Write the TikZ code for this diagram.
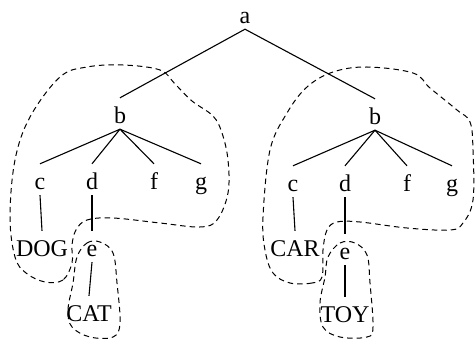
\documentclass[tikz,border=0pt]{standalone}
\usepackage{fontspec}
\setmainfont{Liberation Serif}
\begin{document}
\begin{tikzpicture}[x=1pt,y=-1pt,
  lbl/.style={font=\fontsize{24}{27}\selectfont, inner sep=0pt,
              text height=16pt, text depth=5pt, anchor=base},
  branch/.style={line width=1.1pt},
  group/.style={dashed, dash pattern=on 5.5pt off 4pt, line width=1pt}]
\useasboundingbox (0,0) rectangle (475,339);

% labels, placed by their baselines
\node[lbl] (a)   at (245,24)  {a};
\node[lbl] (bL)  at (120,124) {b};
\node[lbl] (cL)  at (40,190)  {c};
\node[lbl] (dL)  at (92,190)  {d};
\node[lbl] (fL)  at (154,190) {f};
\node[lbl] (gL)  at (201,190) {g};
\node[lbl] (dog) at (42,257)  {DOG};
\node[lbl] (eL)  at (92,257)  {e};
\node[lbl] (cat) at (89,322)  {CAT};
\node[lbl] (bR)  at (375,125) {b};
\node[lbl] (cR)  at (293,192) {c};
\node[lbl] (dR)  at (345,192) {d};
\node[lbl] (fR)  at (407,192) {f};
\node[lbl] (gR)  at (452,192) {g};
\node[lbl] (car) at (295,257) {CAR};
\node[lbl] (eR)  at (345,260) {e};
\node[lbl] (toy) at (345,323) {TOY};

% tree branches
\draw[branch] (a.south) -- ([yshift=10pt]bL.north);
\draw[branch] (a.south) -- ([yshift=10pt]bR.north);
\foreach \c in {cL,dL,fL,gL} \draw[branch] (bL.south) -- ([yshift=10pt]\c.north);
\foreach \c in {cR,dR,fR,gR} \draw[branch] (bR.south) -- ([yshift=10pt]\c.north);
\draw[branch] (cL.south) -- ([yshift=10pt]dog.north);
\draw[branch] (dL.south) -- ([yshift=10pt]eL.north);
\draw[branch] (eL.south) -- ([yshift=10pt]cat.north);
\draw[branch] (cR.south) -- ([yshift=10pt]car.north);
\draw[branch] (dR.south) -- ([yshift=10pt]eR.north);
\draw[branch] (eR.south) -- ([yshift=10pt]toy.north);

% dashed outlines of the matched substructures
\draw[group] plot[smooth cycle, tension=0.6] coordinates {
  (72,263) (63,280) (45,282) (26,273) (15,257) (10,217) (15,160) (30,117)
  (60,77) (87,67) (123,65) (160,70) (175,84) (192,101) (213,116) (222,133)
  (228,160) (228,193) (217,220) (200,227) (160,223) (113,218) (87,220)
  (76,230) (72,245)};
\draw[group] plot[smooth cycle, tension=0.6] coordinates {
  (77,257) (87,243) (100,242) (113,253) (117,283) (120,323) (113,337)
  (90,337) (72,327) (68,310) (73,283)};
\draw[group] plot[smooth cycle, tension=0.6] coordinates {
  (322,277) (312,283) (290,283) (273,273) (265,250) (263,217) (270,150)
  (287,113) (307,87) (333,72) (367,67) (413,73) (430,88) (457,110)
  (470,122) (473,150) (473,200) (463,223) (450,230) (407,228) (360,222)
  (337,222) (327,230) (323,250)};
\draw[group] plot[smooth cycle, tension=0.6] coordinates {
  (328,257) (340,243) (355,243) (367,255) (370,283) (373,327) (367,337)
  (340,337) (323,327) (320,303) (325,277)};
\end{tikzpicture}
\end{document}
